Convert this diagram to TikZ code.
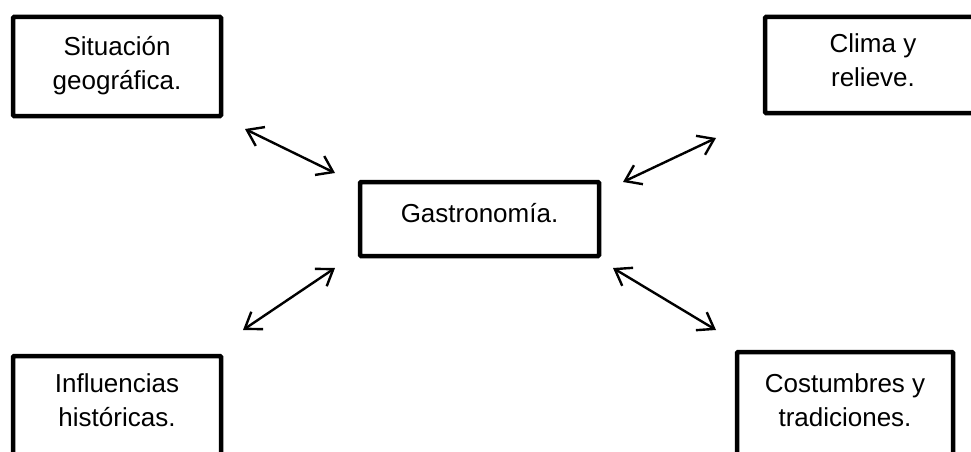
\documentclass[tikz,border=0pt]{standalone}
\usepackage{fontspec}
\setmainfont{Liberation Sans}
\usetikzlibrary{arrows.meta}

\tikzset{
  caja/.style={draw, line width=4.5pt, rounded corners=1pt, align=center,
    font=\fontsize{26}{34}\selectfont, inner sep=0pt},
  flecha/.style={{Straight Barb[length=15pt,width=21pt]}-{Straight Barb[length=15pt,width=21pt]}, line width=2.4pt},
}

\begin{document}
\begin{tikzpicture}[x=1pt,y=-1pt]
	\useasboundingbox (0,0) rectangle (971,452);
	\clip (0,0) rectangle (971,452);

	\node[caja, minimum width=208, minimum height=99, text depth=6.5] (sitgeo) at (117,66.5) {Situación\\geográfica.};
	\node[caja, minimum width=216, minimum height=96, text depth=9] (clima) at (873,65) {Clima y\\relieve.};
	\node[caja, minimum width=239, minimum height=74, text depth=13] (gastro) at (479.5,219) {Gastronomía.};
	\node[caja, minimum width=208, minimum height=120, text depth=31] (influ) at (117,416) {Influencias\\históricas.};
	\node[caja, minimum width=216, minimum height=120, text depth=23] (costum) at (845,412) {Costumbres y\\tradiciones.};

	%extremos de las flechas
	\coordinate (sg1) at (245,129); \coordinate (sg2) at (335,173);
	\coordinate (cl1) at (623,182); \coordinate (cl2) at (716,138);
	\coordinate (in1) at (243,330); \coordinate (in2) at (335,268);
	\coordinate (co1) at (613,268); \coordinate (co2) at (716,330);

	\draw[flecha] (sg1) -- (sg2);
	\draw[flecha] (cl1) -- (cl2);
	\draw[flecha] (in1) -- (in2);
	\draw[flecha] (co1) -- (co2);
\end{tikzpicture}
\end{document}
